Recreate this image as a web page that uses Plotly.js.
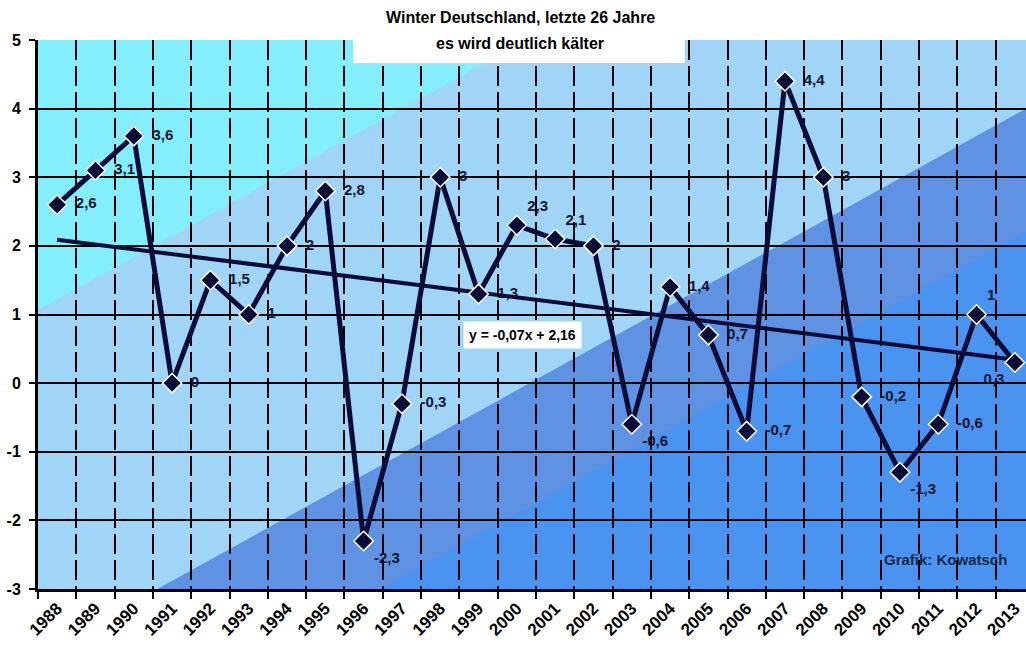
<!DOCTYPE html>
<html>
<head>
<meta charset="utf-8">
<script src="https://cdn.plot.ly/plotly-3.0.1.min.js"></script>
<style>
  html, body { margin: 0; padding: 0; overflow: hidden; background: #ffffff; }
  #chart { width: 1040px; height: 648px; }
</style>
</head>
<body>
<div id="chart"></div>
<script>
// ---- data ----
const years = ['1988','1989','1990','1991','1992','1993','1994','1995','1996','1997','1998','1999','2000',
               '2001','2002','2003','2004','2005','2006','2007','2008','2009','2010','2011','2012','2013'];
const winterTemps = [2.6, 3.1, 3.6, 0, 1.5, 1, 2, 2.8, -2.3, -0.3, 3, 1.3, 2.3,
                     2.1, 2, -0.6, 1.4, 0.7, -0.7, 4.4, 3, -0.2, -1.3, -0.6, 1, 0.3];
const trendYears = ['1988', '2013'];
const trendValues = [2.09, 0.34];
const yTicks = [-3, -2, -1, 0, 1, 2, 3, 4, 5];
const titleLines = ['Winter Deutschland, letzte 26 Jahre', 'es wird deutlich kälter'];
const trendLabel = 'y = -0,07x + 2,16';
const creditLabel = 'Grafik: Kowatsch';

// ---- styling ----
const labelPositions = years.map(() => 'middle right');
labelPositions[8] = 'bottom right';
labelPositions[12] = 'top right';
labelPositions[13] = 'top right';
labelPositions[15] = 'bottom right';
labelPositions[22] = 'bottom right';
labelPositions[24] = 'top right';
labelPositions[25] = 'bottom left';
const pad = '\u00a0\u00a0';

const navy = '#0b0b38';
const fontFam = 'Arial, "Liberation Sans", sans-serif';

// plot area in pixels (for background decoration)
const W = 996, H = 549;
function pt(px, py) { return (px / W).toFixed(5) + ',' + (1 - py / H).toFixed(5); }
function poly(points) { return 'M' + points.map(p => pt(p[0], p[1])).join(' L') + ' Z'; }
const slope = 0.553;
const b2 = 615;   // boundary 2 intercept at left edge
const b1 = 270;   // boundary 1
const b3 = 549 + 342 * slope; // boundary 3

const bgShapes = [
  { pts: [[0,0],[W,0],[W,H],[0,H]], color: '#a0d5f8' },
  { pts: [[0,0],[b1/slope,0],[0,b1]], color: '#84eefc' },
  { pts: [[(b2-H)/slope,H],[W,b2-W*slope],[W,H]], color: '#5f92e2' },
  { pts: [[(b3-H)/slope,H],[W,b3-W*slope],[W,H]], color: '#4b93f1' }
].map(s => ({
  type: 'path', xref: 'paper', yref: 'paper', layer: 'below',
  path: poly(s.pts), fillcolor: s.color, line: { width: 0 }
}));

const traces = [
  {
    x: trendYears, y: trendValues, type: 'scatter', mode: 'lines',
    line: { color: navy, width: 4 }, hoverinfo: 'skip', showlegend: false
  },
  {
    x: years, y: winterTemps, type: 'scatter', mode: 'lines+markers+text',
    line: { color: navy, width: 5 },
    marker: { symbol: 'diamond', size: 15, color: navy, line: { color: '#ffffff', width: 1.5 } },
    text: winterTemps.map((v, i) => (labelPositions[i] === 'middle right' ? pad : '') + String(v).replace('.', ',')),
    textposition: labelPositions,
    textfont: { family: fontFam, size: 15, color: '#151530', weight: 'bold' },
    cliponaxis: false, showlegend: false
  }
];

const layout = {
  width: 1040, height: 648,
  margin: { l: 38, r: 6, t: 40, b: 59 },
  paper_bgcolor: '#ffffff',
  plot_bgcolor: 'rgba(0,0,0,0)',
  showlegend: false,
  xaxis: {
    type: 'category', categoryorder: 'array', categoryarray: years,
    range: [-0.5, years.length - 0.5],
    tickson: 'boundaries',
    showgrid: true, gridcolor: '#000000', gridwidth: 2, griddash: '20px,6px',
    showline: true, linecolor: '#000000', linewidth: 3,
    ticks: 'outside', ticklen: 7, tickwidth: 2, tickcolor: '#000000',
    tickangle: -45,
    tickfont: { family: fontFam, size: 17, color: '#000000', weight: 'bold' },
    zeroline: false, fixedrange: true
  },
  yaxis: {
    range: [-3, 5], tickvals: yTicks, ticktext: yTicks.map(String),
    showgrid: true, gridcolor: '#000000', gridwidth: 2,
    showline: true, linecolor: '#000000', linewidth: 3, mirror: false,
    ticks: 'outside', ticklen: 6, tickwidth: 2, tickcolor: '#000000',
    ticklabelstandoff: 5,
    tickfont: { family: fontFam, size: 16, color: '#000000', weight: 'bold' },
    zeroline: false, fixedrange: true
  },
  shapes: bgShapes.concat([
    { type: 'rect', xref: 'paper', yref: 'paper', layer: 'above',
      x0: (353 - 38) / W, x1: (685 - 38) / W, y0: 1 - (63 - 40) / H, y1: 1 + 40 / H,
      fillcolor: '#ffffff', line: { width: 0 } }
  ]),
  annotations: [
    { xref: 'paper', yref: 'paper', x: (520 - 38) / W, y: 1 - (17 - 40) / H,
      text: titleLines[0], showarrow: false, xanchor: 'center', yanchor: 'middle',
      font: { family: fontFam, size: 16, color: '#000000', weight: 'bold' } },
    { xref: 'paper', yref: 'paper', x: (520 - 38) / W, y: 1 - (43 - 40) / H,
      text: titleLines[1], showarrow: false, xanchor: 'center', yanchor: 'middle',
      font: { family: fontFam, size: 16, color: '#000000', weight: 'bold' } },
    { xref: 'paper', yref: 'paper', x: (522 - 38) / W, y: 1 - (335 - 40) / H,
      text: trendLabel, showarrow: false, xanchor: 'center', yanchor: 'middle',
      bgcolor: '#ffffff', borderpad: 5,
      font: { family: fontFam, size: 14, color: '#000000', weight: 'bold' } },
    { xref: 'paper', yref: 'paper', x: (945 - 38) / W, y: 1 - (559 - 40) / H,
      text: creditLabel, showarrow: false, xanchor: 'center', yanchor: 'middle',
      font: { family: fontFam, size: 15, color: '#15284a', weight: 'bold' } }
  ]
};

Plotly.newPlot('chart', traces, layout, { displayModeBar: false, staticPlot: true });
</script>
</body>
</html>
